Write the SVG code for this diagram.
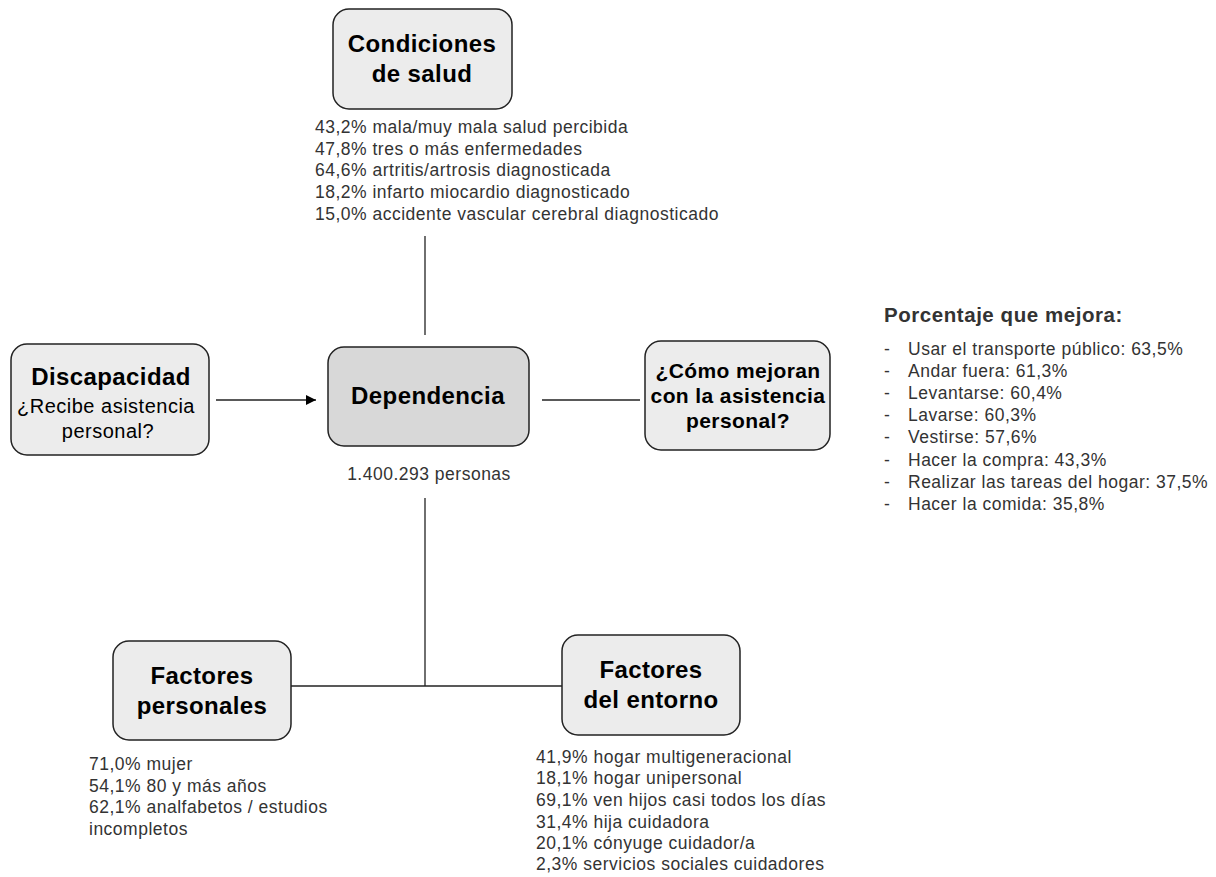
<svg xmlns="http://www.w3.org/2000/svg" width="1216" height="877" viewBox="0 0 1216 877">
<defs>
<marker id="arr" viewBox="0 0 10 10" refX="10" refY="5" markerWidth="10" markerHeight="10" markerUnits="userSpaceOnUse" orient="auto"><path d="M0,0 L10,5 L0,10 z" fill="#000"/></marker>
<style>
.box{fill:#ececec;stroke:#222;stroke-width:1.5}
.dark{fill:#d8d8d8}
.t{font-family:"Liberation Sans",Arial,sans-serif;fill:#000;text-anchor:middle}
.b{font-weight:bold}
.big{font-size:24px;letter-spacing:0.4px}
.mid{font-size:21px;letter-spacing:0.4px}
.reg{font-size:20px;letter-spacing:0.5px}
.d{font-family:"Liberation Sans",Arial,sans-serif;fill:#333;font-size:17.5px;letter-spacing:0.5px}
.h{font-family:"Liberation Sans",Arial,sans-serif;fill:#333;font-size:20.5px;letter-spacing:0.55px;font-weight:bold}
.c{stroke:#222;stroke-width:1.3;fill:none}
</style>
</defs>
<rect width="1216" height="877" fill="#fff"/>
<g id="connectors">
<line class="c" x1="425" y1="236" x2="425" y2="335"/>
<line class="c" x1="216" y1="400" x2="316" y2="400" marker-end="url(#arr)"/>
<line class="c" x1="542" y1="400" x2="640" y2="400"/>
<line class="c" x1="425" y1="498" x2="425" y2="686"/>
<line class="c" x1="291" y1="686" x2="562" y2="686"/>
</g>
<g id="condiciones">
<rect class="box" x="333" y="9" width="179" height="100" rx="16"/>
<text class="t b big" x="422" y="52">Condiciones</text>
<text class="t b big" x="422" y="82">de salud</text>
<text class="d" x="315" y="133">43,2% mala/muy mala salud percibida</text>
<text class="d" x="315" y="155">47,8% tres o más enfermedades</text>
<text class="d" x="315" y="176">64,6% artritis/artrosis diagnosticada</text>
<text class="d" x="315" y="198">18,2% infarto miocardio diagnosticado</text>
<text class="d" x="315" y="220">15,0% accidente vascular cerebral diagnosticado</text>
</g>
<g id="discapacidad">
<rect class="box" x="11" y="344" width="198" height="111" rx="16"/>
<text class="t b big" x="111" y="385">Discapacidad</text>
<text class="t reg" x="106" y="413">¿Recibe asistencia</text>
<text class="t reg" x="108" y="438">personal?</text>
</g>
<g id="dependencia">
<rect class="box dark" x="328" y="347" width="201" height="99" rx="16"/>
<text class="t b big" x="428" y="404">Dependencia</text>
<text class="d" x="429" y="480" text-anchor="middle">1.400.293 personas</text>
</g>
<g id="mejoran">
<rect class="box" x="645" y="341" width="185" height="109" rx="16"/>
<text class="t b mid" x="738" y="378">¿Cómo mejoran</text>
<text class="t b mid" x="738" y="403">con la asistencia</text>
<text class="t b mid" x="738" y="428">personal?</text>
</g>
<g id="porcentaje">
<text class="h" x="884" y="322">Porcentaje que mejora:</text>
<text class="d" x="884" y="355">-</text><text class="d" x="908" y="355">Usar el transporte público: 63,5%</text>
<text class="d" x="884" y="377">-</text><text class="d" x="908" y="377">Andar fuera: 61,3%</text>
<text class="d" x="884" y="399">-</text><text class="d" x="908" y="399">Levantarse: 60,4%</text>
<text class="d" x="884" y="421">-</text><text class="d" x="908" y="421">Lavarse: 60,3%</text>
<text class="d" x="884" y="443">-</text><text class="d" x="908" y="443">Vestirse: 57,6%</text>
<text class="d" x="884" y="466">-</text><text class="d" x="908" y="466">Hacer la compra: 43,3%</text>
<text class="d" x="884" y="488">-</text><text class="d" x="908" y="488">Realizar las tareas del hogar: 37,5%</text>
<text class="d" x="884" y="510">-</text><text class="d" x="908" y="510">Hacer la comida: 35,8%</text>
</g>
<g id="personales">
<rect class="box" x="113" y="641" width="178" height="99" rx="16"/>
<text class="t b big" x="202" y="684">Factores</text>
<text class="t b big" x="202" y="714">personales</text>
<text class="d" x="89" y="770">71,0% mujer</text>
<text class="d" x="89" y="792">54,1% 80 y más años</text>
<text class="d" x="89" y="813">62,1% analfabetos / estudios</text>
<text class="d" x="89" y="835">incompletos</text>
</g>
<g id="entorno">
<rect class="box" x="562" y="635" width="178" height="100" rx="16"/>
<text class="t b big" x="651" y="678">Factores</text>
<text class="t b big" x="651" y="708">del entorno</text>
<text class="d" x="536" y="763">41,9% hogar multigeneracional</text>
<text class="d" x="536" y="784">18,1% hogar unipersonal</text>
<text class="d" x="536" y="806">69,1% ven hijos casi todos los días</text>
<text class="d" x="536" y="828">31,4% hija cuidadora</text>
<text class="d" x="536" y="849">20,1% cónyuge cuidador/a</text>
<text class="d" x="536" y="870">2,3% servicios sociales cuidadores</text>
</g>
</svg>
